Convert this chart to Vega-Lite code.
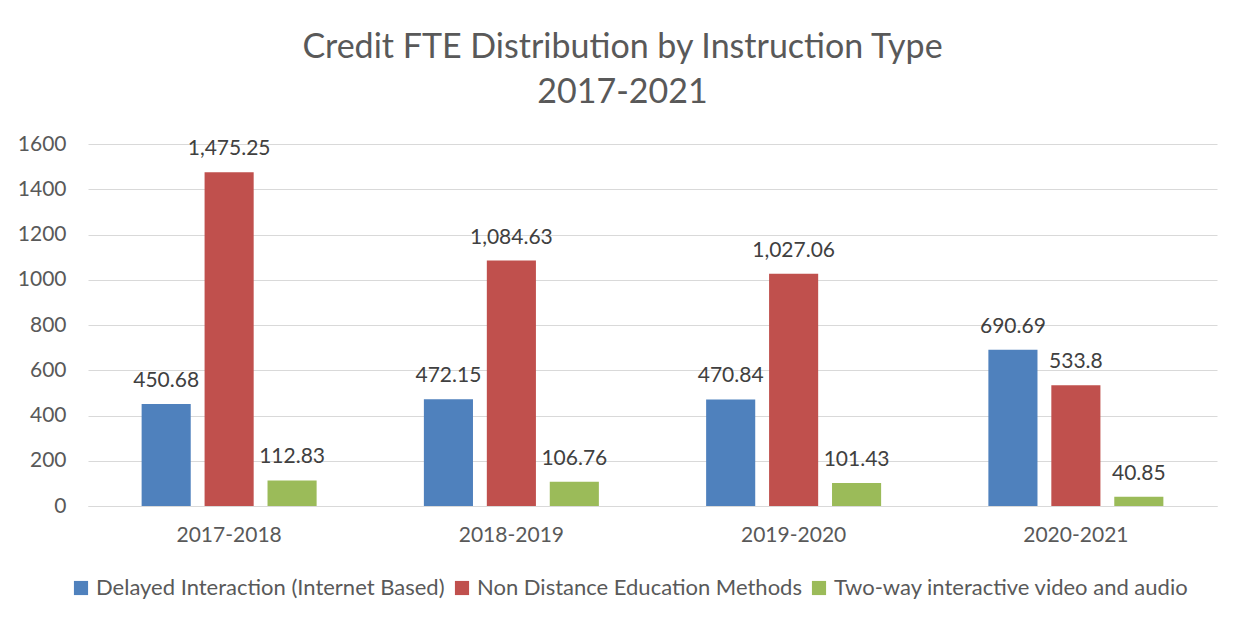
{
  "$schema": "https://vega.github.io/schema/vega-lite/v6.json",
  "autosize": {"type": "none"},
  "width": 1129,
  "height": 362,
  "padding": {"left": 88, "top": 144, "right": 30, "bottom": 121},
  "background": "white",
  "config": {"view": {"stroke": null}},
  "title": {
    "text": ["Credit FTE Distribution by Instruction Type", "2017-2021"],
    "fontSize": 34,
    "font": "Lato",
    "fontWeight": "normal",
    "color": "#595959",
    "anchor": "middle",
    "lineHeight": 45,
    "offset": 23,
    "dx": -30
  },
  "data": {
    "values": [
      {"year": "2017-2018", "type": "Delayed Interaction (Internet Based)", "value": 450.68, "label": "450.68"},
      {"year": "2017-2018", "type": "Non Distance Education Methods", "value": 1475.25, "label": "1,475.25"},
      {"year": "2017-2018", "type": "Two-way interactive video and audio", "value": 112.83, "label": "112.83"},
      {"year": "2018-2019", "type": "Delayed Interaction (Internet Based)", "value": 472.15, "label": "472.15"},
      {"year": "2018-2019", "type": "Non Distance Education Methods", "value": 1084.63, "label": "1,084.63"},
      {"year": "2018-2019", "type": "Two-way interactive video and audio", "value": 106.76, "label": "106.76"},
      {"year": "2019-2020", "type": "Delayed Interaction (Internet Based)", "value": 470.84, "label": "470.84"},
      {"year": "2019-2020", "type": "Non Distance Education Methods", "value": 1027.06, "label": "1,027.06"},
      {"year": "2019-2020", "type": "Two-way interactive video and audio", "value": 101.43, "label": "101.43"},
      {"year": "2020-2021", "type": "Delayed Interaction (Internet Based)", "value": 690.69, "label": "690.69"},
      {"year": "2020-2021", "type": "Non Distance Education Methods", "value": 533.8, "label": "533.8"},
      {"year": "2020-2021", "type": "Two-way interactive video and audio", "value": 40.85, "label": "40.85"}
    ]
  },
  "encoding": {
    "x": {
      "field": "year", "type": "nominal", "sort": null,
      "scale": {"paddingInner": 0.38, "paddingOuter": 0.19},
      "axis": {
        "title": null, "labelAngle": 0, "labelFontSize": 21, "labelFont": "Lato",
        "labelColor": "#595959", "labelPadding": 18, "ticks": false,
        "domainColor": "#d9d9d9", "domainWidth": 1, "grid": false
      }
    },
    "xOffset": {
      "field": "type", "type": "nominal", "sort": null,
      "scale": {"paddingInner": 0.22, "paddingOuter": 0}
    },
    "y": {
      "field": "value", "type": "quantitative",
      "scale": {"domain": [0, 1600], "nice": false},
      "axis": {
        "title": null, "values": [0, 200, 400, 600, 800, 1000, 1200, 1400, 1600],
        "labelFontSize": 21, "labelFont": "Lato", "labelColor": "#595959",
        "labelPadding": 22, "ticks": false, "domain": false,
        "gridColor": "#d9d9d9", "gridWidth": 1, "format": "d"
      }
    }
  },
  "layer": [
    {
      "mark": {"type": "bar"},
      "encoding": {
        "color": {
          "field": "type", "type": "nominal", "sort": null,
          "scale": {
            "domain": ["Delayed Interaction (Internet Based)", "Non Distance Education Methods", "Two-way interactive video and audio"],
            "range": ["#4F81BD", "#C0504D", "#9BBB59"]
          },
          "legend": {
            "title": null, "orient": "none", "legendX": -18, "legendY": 433,
            "direction": "horizontal", "symbolType": "square", "symbolSize": 200,
            "symbolStrokeWidth": 0, "labelFontSize": 22, "labelFont": "Lato",
            "labelColor": "#595959", "columnPadding": 6, "labelOffset": 4,
            "labelLimit": 500
          }
        }
      }
    },
    {
      "mark": {"type": "text", "baseline": "alphabetic", "dy": -17, "fontSize": 21, "font": "Lato", "color": "#404040"},
      "encoding": {"text": {"field": "label"}}
    }
  ]
}
